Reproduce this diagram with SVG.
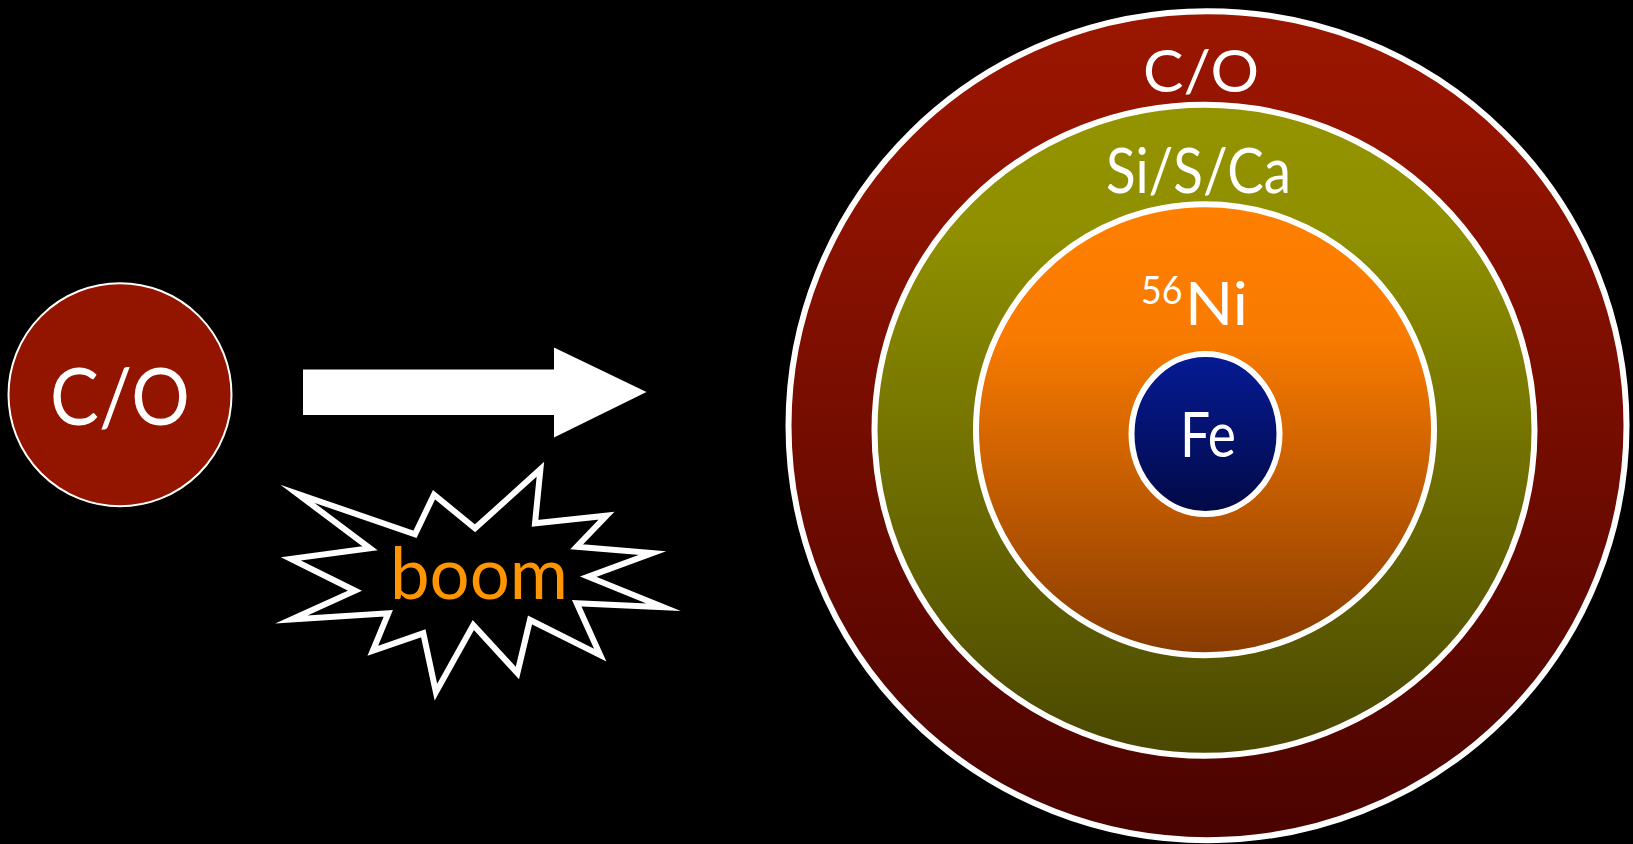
<svg xmlns="http://www.w3.org/2000/svg" width="1633" height="844" viewBox="0 0 1633 844">
  <defs>
    <linearGradient id="gOuter" x1="0" y1="0" x2="0" y2="1">
      <stop offset="0" stop-color="#9a1600"/>
      <stop offset="0.15" stop-color="#941400"/>
      <stop offset="1" stop-color="#4a0300"/>
    </linearGradient>
    <linearGradient id="gMiddle" x1="0" y1="0" x2="0" y2="1">
      <stop offset="0" stop-color="#949400"/>
      <stop offset="0.2" stop-color="#8f8f00"/>
      <stop offset="1" stop-color="#4a4800"/>
    </linearGradient>
    <linearGradient id="gInner" x1="0" y1="0" x2="0" y2="1">
      <stop offset="0" stop-color="#ff8000"/>
      <stop offset="0.3" stop-color="#f87a00"/>
      <stop offset="1" stop-color="#883b00"/>
    </linearGradient>
    <linearGradient id="gCore" x1="0" y1="0" x2="0" y2="1">
      <stop offset="0" stop-color="#061b96"/>
      <stop offset="1" stop-color="#020946"/>
    </linearGradient>
    <style>
      .lbl { font-family: Lato, "Open Sans", "Liberation Sans", sans-serif; fill: #ffffff; }
      .shell { stroke: #ffffff; stroke-width: 6; }
    </style>
  </defs>

  <rect x="0" y="0" width="1633" height="844" fill="#000000"/>

  <!-- white dwarf before the explosion -->
  <g id="progenitor">
    <circle cx="120" cy="394.7" r="111.5" fill="#931500" stroke="#ffffff" stroke-width="2"/>
    <text class="lbl" x="120" y="425" font-size="80" text-anchor="middle" textLength="140" lengthAdjust="spacingAndGlyphs">C/O</text>
  </g>

  <g id="connectors">
    <polygon id="arrow" points="303,369.5 554,369.5 554,347.5 646.5,392 554,437.5 554,415 303,415" fill="#ffffff"/>
  </g>

  <!-- explosion burst; vertices sit on the stroke centreline, mitred tips reach further out -->
  <g id="boom">
    <polygon points="297.4,493.8 415,534.3 434,494.7 475,528.3 540.4,469.3 535,523.3 606.6,515.7 576.7,546.7 652.4,553.1 588.3,576.7 663.5,607.2 576.7,603.3 600.2,655.1 530,620 517.4,673 473.3,625 435.9,692.1 423.3,633.3 372.8,650.8 388.3,613.3 291.4,619.5 355,590.7 291,558.9 370,548.3" fill="#000000" stroke="#ffffff" stroke-width="6" stroke-linejoin="miter" stroke-miterlimit="20"/>
    <text x="390" y="599" font-family="Lato, 'Open Sans', 'Liberation Sans', sans-serif" font-size="72" fill="#ff9500" textLength="178" lengthAdjust="spacingAndGlyphs">boom</text>
  </g>

  <!-- layered ejecta after the explosion -->
  <g id="shell-co">
    <ellipse class="shell" cx="1207.5" cy="425.7" rx="419" ry="414.5" fill="url(#gOuter)" stroke-width="5"/>
    <text class="lbl" x="1201" y="92" font-size="59" text-anchor="middle" textLength="116" lengthAdjust="spacingAndGlyphs">C/O</text>
  </g>
  <g id="shell-si">
    <ellipse class="shell" cx="1204.5" cy="430.3" rx="330" ry="325.5" fill="url(#gMiddle)"/>
    <text class="lbl" x="1198.5" y="193" font-size="62" text-anchor="middle" textLength="185" lengthAdjust="spacingAndGlyphs">Si/S/Ca</text>
  </g>
  <g id="shell-ni">
    <ellipse class="shell" cx="1205" cy="429.7" rx="229" ry="225.5" fill="url(#gInner)"/>
    <text class="lbl" x="1141" y="304" font-size="39" textLength="41.5" lengthAdjust="spacingAndGlyphs">56</text>
    <text class="lbl" x="1185" y="325" font-size="60" textLength="63" lengthAdjust="spacingAndGlyphs">Ni</text>
  </g>
  <g id="core-fe">
    <ellipse class="shell" cx="1205.5" cy="434" rx="74" ry="80" fill="url(#gCore)"/>
    <text class="lbl" x="1180" y="457" font-size="61" textLength="56" lengthAdjust="spacingAndGlyphs">Fe</text>
  </g>
</svg>
